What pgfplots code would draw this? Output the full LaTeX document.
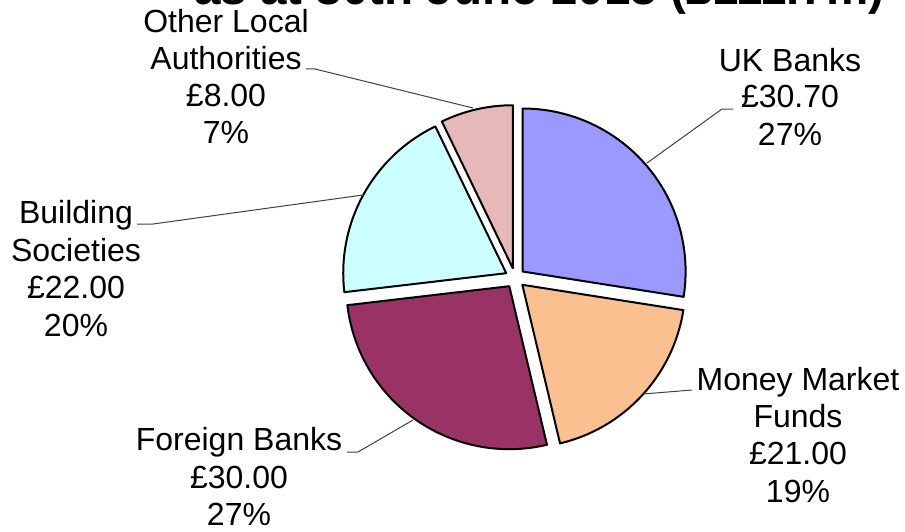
\documentclass[border=0pt]{standalone}
\usepackage{pgfplots}
\pgfplotsset{compat=1.18}
\usepackage{pgfplotstable}
\usepackage{fontspec}
\setmainfont{Liberation Sans}

\definecolor{slice0}{HTML}{9999FF}
\definecolor{slice1}{HTML}{FAC090}
\definecolor{slice2}{HTML}{993366}
\definecolor{slice3}{HTML}{CCFFFF}
\definecolor{slice4}{HTML}{E6B9B8}
\definecolor{leader}{HTML}{404040}

% investments by counterparty, GBP m
\pgfplotstableread{
name value
UK 30.70
MM 21.00
FB 30.00
BS 22.00
OLA 8.00
}\piedata

% slice angles, clockwise from 12 o'clock
\gdef\total{0}
\foreach \i in {0,...,4}{%
  \pgfplotstablegetelem{\i}{value}\of\piedata
  \pgfmathparse{\total+\pgfplotsretval}\xdef\total{\pgfmathresult}}
\gdef\cum{0}
\foreach \i in {0,...,4}{%
  \pgfplotstablegetelem{\i}{value}\of\piedata
  \pgfmathparse{90-360*(\cum/\total)}\expandafter\xdef\csname sa\i\endcsname{\pgfmathresult}%
  \pgfmathparse{\cum+\pgfplotsretval}\xdef\cum{\pgfmathresult}%
  \pgfmathparse{90-360*(\cum/\total)}\expandafter\xdef\csname ea\i\endcsname{\pgfmathresult}}

\newcommand\lblfont{\fontsize{16pt}{18pt}\selectfont}
\newcommand\lbl[3]{\node[anchor=base, inner sep=0pt, font=\lblfont] at (axis cs:#1,#2) {#3};}

\begin{document}
\begin{tikzpicture}
\begin{axis}[
  x=0.5pt, y=0.5pt,
  xmin=0, xmax=905, ymin=0, ymax=531,
  hide axis, clip=false
]
\coordinate (bl) at (axis cs:0,0);
\coordinate (tr) at (axis cs:905,531);

\pgfplotsinvokeforeach{0,...,4}{
  \fill[slice#1, draw=black, line width=1pt, line join=round]
    (axis cs:{515+10*cos((\csname sa#1\endcsname+\csname ea#1\endcsname)/2)},
             {253+10*sin((\csname sa#1\endcsname+\csname ea#1\endcsname)/2)})
    -- ++(\csname sa#1\endcsname:81.5pt)
    arc[start angle=\csname sa#1\endcsname, end angle=\csname ea#1\endcsname, radius=81.5pt]
    -- cycle;
}

% leader lines
\draw[leader, line width=0.5pt] (axis cs:647,368) -- (axis cs:722,422) -- (axis cs:733,422);
\draw[leader, line width=0.5pt] (axis cs:643,137) -- (axis cs:692,141);
\draw[leader, line width=0.5pt] (axis cs:306,462) -- (axis cs:315,462) -- (axis cs:473,423);
\draw[leader, line width=0.5pt] (axis cs:137,307) -- (axis cs:153,307) -- (axis cs:363,336);
\draw[leader, line width=0.5pt] (axis cs:347,79) -- (axis cs:358,79) -- (axis cs:413,111);

% labels
\lbl{226}{498}{Other Local}
\lbl{226}{461}{Authorities}
\lbl{226}{424}{£8.00}
\lbl{226}{387}{7\%}
\lbl{790}{459}{UK Banks}
\lbl{790}{423}{£30.70}
\lbl{790}{386}{27\%}
\lbl{798}{141}{Money Market}
\lbl{798}{104}{Funds}
\lbl{798}{67}{£21.00}
\lbl{798}{29}{19\%}
\lbl{76}{308}{Building}
\lbl{76}{270}{Societies}
\lbl{76}{233}{£22.00}
\lbl{76}{195}{20\%}
\lbl{239}{81}{Foreign Banks}
\lbl{239}{43}{£30.00}
\lbl{239}{6}{27\%}

\node[anchor=base, inner sep=0pt, font=\fontsize{23.8pt}{28pt}\selectfont\bfseries]
  at (axis cs:539.5,526) {as at 30th June 2013 (£111.7m)};
\end{axis}
\pgfresetboundingbox
\path[use as bounding box] (bl) rectangle (tr);
\end{tikzpicture}
\end{document}
